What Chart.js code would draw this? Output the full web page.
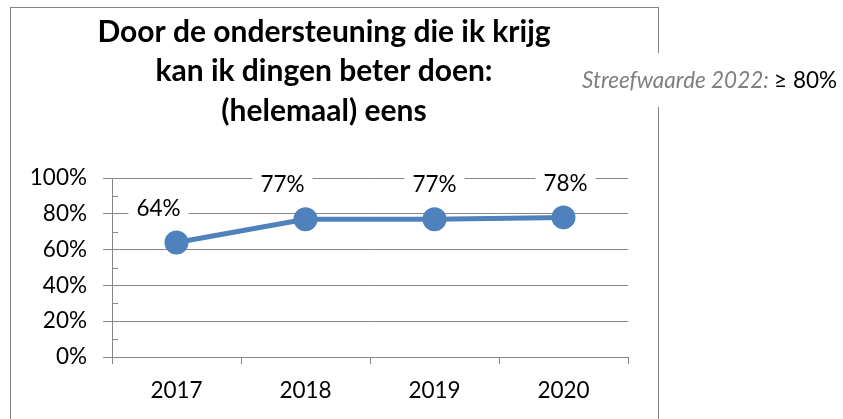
<!DOCTYPE html>
<html>
<head>
<meta charset="utf-8">
<script src="https://cdn.jsdelivr.net/npm/chart.js@4.4.0/dist/chart.umd.min.js"></script>
<style>
  html, body { margin: 0; padding: 0; background: #fff; overflow: hidden; }
  #wrap { position: relative; width: 843px; height: 419px; }
</style>
</head>
<body>
<div id="wrap"><canvas id="chart" width="843" height="419"></canvas></div>
<script>
// data
var years = ['2017', '2018', '2019', '2020'];
var eens = [0.64, 0.77, 0.77, 0.78];
var yTicks = [0, 0.2, 0.4, 0.6, 0.8, 1];
var titleLines = ['Door de ondersteuning die ik krijg', 'kan ik dingen beter doen:', '(helemaal) eens'];
var targetLabel = 'Streefwaarde 2022:';
var targetValue = '\u2265 80%';
// small horizontal nudges of the value labels, as in the original
var labelShift = [-18, -23, 0, 2];

var FONT = 'Lato, "Open Sans", sans-serif';
var GRID = '#868686';
var BLUE = '#4F81BD';

function pct(v) { return Math.round(v * 100) + '%'; }

var frame = {
  id: 'frame',
  beforeDraw: function (chart) {
    var ctx = chart.ctx;
    ctx.save();
    ctx.fillStyle = '#fff';
    ctx.fillRect(0, 0, chart.width, chart.height);
    ctx.strokeStyle = GRID;
    ctx.lineWidth = 1;
    ctx.strokeRect(10.5, 7.5, 648, 430);

    // title
    ctx.fillStyle = '#000';
    ctx.font = 'bold 30px ' + FONT;
    ctx.textAlign = 'center';
    ctx.textBaseline = 'middle';
    titleLines.forEach(function (t, i) {
      ctx.fillText(t, 324, 32 + i * 39.5);
    });

    // minor ticks at 10 %
    var y = chart.scales.y;
    ctx.strokeStyle = GRID;
    ctx.beginPath();
    for (var v = 0.1; v < 1; v += 0.2) {
      var py = Math.round(y.getPixelForValue(v)) + 0.5;
      ctx.moveTo(y.right, py);
      ctx.lineTo(y.right + 6, py);
    }
    ctx.stroke();
    ctx.restore();
  },
  afterDatasetsDraw: function (chart) {
    var ctx = chart.ctx;
    var meta = chart.getDatasetMeta(0);
    ctx.save();
    ctx.font = '22.5px ' + FONT;
    ctx.textAlign = 'center';
    ctx.textBaseline = 'middle';
    meta.data.forEach(function (pt, i) {
      var txt = pct(eens[i]);
      var x = pt.x + labelShift[i];
      var yy = pt.y - 34;
      var w = ctx.measureText(txt).width;
      ctx.fillStyle = '#fff';
      ctx.fillRect(x - w / 2 - 8, yy - 13, w + 16, 26);
      ctx.fillStyle = '#000';
      ctx.fillText(txt, x, yy);
    });

    // streefwaarde note, on a white patch over the frame
    ctx.fillStyle = '#fff';
    ctx.fillRect(575, 53, 268, 54);
    ctx.font = 'italic 22.5px ' + FONT;
    ctx.textAlign = 'left';
    var w1 = ctx.measureText(targetLabel + ' ').width;
    ctx.fillStyle = '#7F7F7F';
    ctx.fillText(targetLabel, 582, 81);
    ctx.font = '22.5px ' + FONT;
    ctx.fillStyle = '#000';
    ctx.fillText(targetValue, 582 + w1, 81);
    ctx.restore();
  }
};

new Chart(document.getElementById('chart'), {
  type: 'line',
  data: {
    labels: years,
    datasets: [{
      data: eens,
      borderColor: BLUE,
      backgroundColor: BLUE,
      borderWidth: 5,
      pointRadius: 9.5,
      pointHoverRadius: 9.5,
      pointBackgroundColor: BLUE,
      pointBorderColor: BLUE,
      tension: 0
    }]
  },
  options: {
    responsive: false,
    animation: false,
    events: [],
    layout: { autoPadding: false, padding: { left: 0, right: 215, top: 178, bottom: 0 } },
    plugins: { legend: { display: false }, title: { display: false }, tooltip: { enabled: false } },
    scales: {
      x: {
        offset: true,
        afterFit: function (s) { s.height = 62; },
        grid: { offset: true, drawOnChartArea: false, drawTicks: true, tickLength: 7, color: GRID },
        border: { color: GRID, width: 1 },
        ticks: { color: '#000', font: { size: 22.5, family: FONT }, padding: 13, maxRotation: 0 }
      },
      y: {
        min: 0,
        max: 1,
        afterFit: function (s) { s.width = 112; },
        afterBuildTicks: function (s) { s.ticks = yTicks.map(function (v) { return { value: v }; }); },
        grid: { color: GRID, tickLength: 9, lineWidth: 1 },
        border: { color: GRID, width: 1 },
        ticks: { color: '#000', font: { size: 22.5, family: FONT }, padding: 16, callback: function (v) { return pct(v); } }
      }
    }
  },
  plugins: [frame]
});
</script>
</body>
</html>
